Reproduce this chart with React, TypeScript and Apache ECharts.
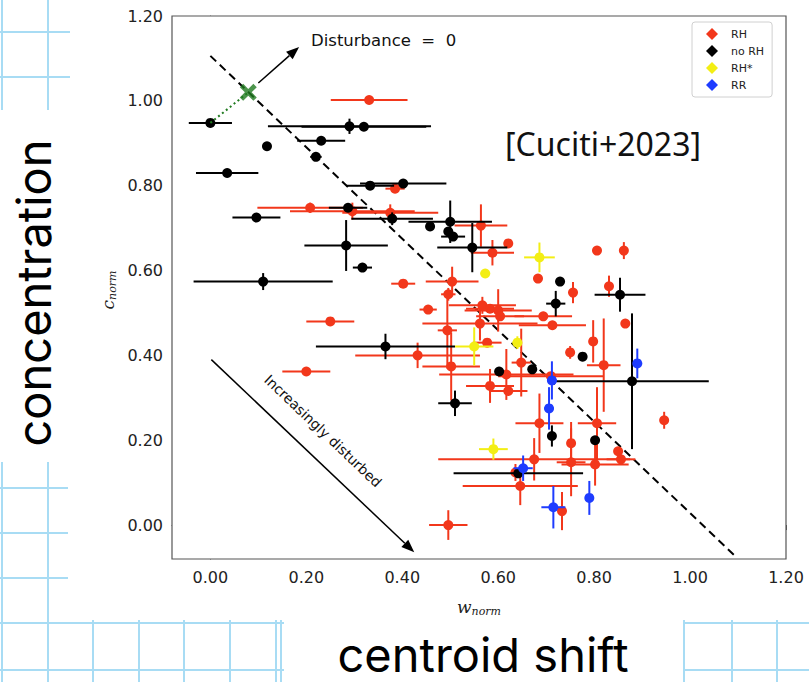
import React, { useEffect, useRef } from "react";
import * as echarts from "echarts";

const xTicks = [0, 0.2, 0.4, 0.6, 0.8, 1.0, 1.2];
const yTicks = [0, 0.2, 0.4, 0.6, 0.8, 1.0, 1.2];

// RH (red)
const rhX = [0.331, 0.385, 0.208, 0.296, 0.375, 0.564, 0.621, 0.588, 0.806, 0.862, 0.683, 0.756, 0.831, 0.865, 0.504, 0.402, 0.496, 0.454, 0.567, 0.583, 0.600, 0.604, 0.694, 0.713, 0.562, 0.494, 0.250, 0.577, 0.432, 0.200, 0.502, 0.648, 0.750, 0.798, 0.820, 0.617, 0.710, 0.583, 0.621, 0.686, 0.806, 0.946, 0.752, 0.850, 0.856, 0.675, 0.752, 0.802, 0.636, 0.646, 0.733, 0.496];
const rhY = [1.002, 0.793, 0.748, 0.740, 0.736, 0.706, 0.664, 0.642, 0.647, 0.647, 0.581, 0.548, 0.563, 0.475, 0.574, 0.569, 0.544, 0.508, 0.518, 0.510, 0.506, 0.492, 0.492, 0.471, 0.475, 0.459, 0.480, 0.430, 0.400, 0.362, 0.374, 0.383, 0.407, 0.433, 0.377, 0.355, 0.351, 0.328, 0.316, 0.240, 0.240, 0.247, 0.193, 0.174, 0.155, 0.155, 0.148, 0.143, 0.124, 0.092, 0.033, 0.000];
const rhXErr = [0.08, 0.02, 0.11, 0.13, 0.10, 0.055, 0, 0.045, 0, 0, 0, 0, 0, 0, 0.055, 0.025, 0.015, 0.018, 0.07, 0.05, 0.07, 0.05, 0.06, 0.07, 0.12, 0.02, 0.05, 0.03, 0.13, 0.05, 0.06, 0.02, 0, 0, 0.035, 0.14, 0.11, 0.05, 0.04, 0.05, 0.04, 0, 0, 0, 0.03, 0.2, 0.03, 0.07, 0, 0.12, 0, 0.04];
const rhYErr = [0, 0, 0.012, 0.02, 0.02, 0.05, 0, 0.03, 0, 0.02, 0, 0.025, 0.025, 0, 0.035, 0, 0.015, 0.01, 0.02, 0, 0.05, 0, 0, 0, 0.04, 0.09, 0, 0, 0.03, 0, 0.08, 0.08, 0.015, 0.05, 0.11, 0.06, 0, 0.04, 0, 0.07, 0.085, 0.02, 0.05, 0, 0, 0.05, 0.08, 0.05, 0.02, 0.045, 0.045, 0.035];

// no RH (black)
const nrX = [0.000, 0.290, 0.320, 0.231, 0.118, 0.220, 0.035, 0.333, 0.402, 0.287, 0.096, 0.379, 0.283, 0.317, 0.110, 0.458, 0.500, 0.496, 0.506, 0.546, 0.729, 0.720, 0.854, 0.879, 0.365, 0.602, 0.671, 0.776, 0.510, 0.712, 0.802, 0.642];
const nrY = [0.948, 0.940, 0.939, 0.906, 0.893, 0.868, 0.830, 0.800, 0.805, 0.748, 0.725, 0.722, 0.659, 0.607, 0.574, 0.704, 0.715, 0.692, 0.680, 0.654, 0.574, 0.522, 0.543, 0.339, 0.421, 0.362, 0.367, 0.397, 0.287, 0.210, 0.200, 0.122];
const nrXErr = [0.045, 0.17, 0.13, 0.05, 0, 0.012, 0.065, 0.05, 0.09, 0.04, 0.05, 0.085, 0.087, 0.02, 0.145, 0, 0.087, 0, 0.025, 0.073, 0, 0.02, 0.053, 0.16, 0.145, 0, 0, 0, 0.035, 0, 0, 0.135];
const nrYErr = [0, 0.018, 0, 0, 0, 0, 0, 0, 0.01, 0, 0, 0.015, 0.06, 0, 0.02, 0, 0.05, 0, 0.01, 0.058, 0, 0.03, 0.04, 0.16, 0.03, 0, 0, 0, 0.03, 0.025, 0, 0.01];

// RH* (yellow)
const rsX = [0.686, 0.573, 0.550, 0.640, 0.590];
const rsY = [0.631, 0.593, 0.421, 0.430, 0.179];
const rsXErr = [0.032, 0.01, 0.04, 0.01, 0.03];
const rsYErr = [0.035, 0.01, 0.045, 0.015, 0.025];

// RR (blue)
const rrX = [0.890, 0.712, 0.706, 0.652, 0.790, 0.715];
const rrY = [0.381, 0.341, 0.275, 0.134, 0.064, 0.042];
const rrXErr = [0, 0.01, 0.01, 0.02, 0, 0.025];
const rrYErr = [0.035, 0.045, 0.05, 0.03, 0.04, 0.05];

// annotations (data coordinates)
const equalLine = [[0, 1.106], [1.094, -0.073]];
const zeroPoint = [0.079, 1.02];
const dottedLink = [[0.0, 0.948], [0.079, 1.02]];
const arrowUp = [0.1, 1.042, 0.185, 1.127];
const arrowDown = [0.002, 0.39, 0.425, -0.064];

const RED = "#f2371b";
const BLACK = "#000000";
const YELLOW = "#f3ee14";
const BLUE = "#1e3cff";
const GREEN = "#1f7a1f";

function zip(x: number[], y: number[], xe: number[], ye: number[]) {
  return x.map((v, i) => [v, y[i], xe[i], ye[i]]);
}

function errRender(color: string) {
  return (params: any, api: any) => {
    const x = api.value(0), y = api.value(1), xe = api.value(2), ye = api.value(3);
    const children: any[] = [];
    if (xe > 0) {
      const a = api.coord([x - xe, y]);
      const b = api.coord([x + xe, y]);
      children.push({ type: "line", shape: { x1: a[0], y1: a[1], x2: b[0], y2: b[1] }, style: { stroke: color, lineWidth: 2 } });
    }
    if (ye > 0) {
      const a = api.coord([x, y - ye]);
      const b = api.coord([x, y + ye]);
      children.push({ type: "line", shape: { x1: a[0], y1: a[1], x2: b[0], y2: b[1] }, style: { stroke: color, lineWidth: 2 } });
    }
    return { type: "group", children };
  };
}

function arrowRender(params: any, api: any) {
  const p1 = api.coord([api.value(0), api.value(1)]);
  const p2 = api.coord([api.value(2), api.value(3)]);
  const dx = p2[0] - p1[0], dy = p2[1] - p1[1];
  const len = Math.sqrt(dx * dx + dy * dy);
  const ux = dx / len, uy = dy / len;
  const hl = 13, hw = 5;
  const bx = p2[0] - ux * hl, by = p2[1] - uy * hl;
  return {
    type: "group",
    children: [
      { type: "line", shape: { x1: p1[0], y1: p1[1], x2: bx, y2: by }, style: { stroke: "#000", lineWidth: 1.5 } },
      {
        type: "polygon",
        shape: { points: [[p2[0], p2[1]], [bx - uy * hw, by + ux * hw], [bx + uy * hw, by - ux * hw]] },
        style: { fill: "#000" },
      },
    ],
  };
}

function groupSeries(name: string, color: string, data: number[][], z: number) {
  return [
    {
      name: name + "-err",
      type: "custom",
      renderItem: errRender(color),
      data,
      encode: { x: 0, y: 1 },
      z,
      silent: true,
    },
    {
      name,
      type: "scatter",
      data: data.map((d) => [d[0], d[1]]),
      symbol: "circle",
      symbolSize: 10,
      itemStyle: { color, opacity: 1 },
      z: z + 1,
    },
  ];
}

const blueLines = [
  // left top block
  [0, 32, 70, 32], [0, 77, 70, 77], [48, 0, 48, 110], [2, 0, 2, 110],
  // left lower block
  [48, 462, 48, 682], [2, 462, 2, 682], [0, 488, 68, 488], [0, 533, 68, 533], [0, 578, 68, 578],
  [0, 623, 284, 623], [0, 670, 284, 670],
  [93, 620, 93, 682], [139, 620, 139, 682], [184, 620, 184, 682], [230, 620, 230, 682], [276, 620, 276, 682], [281, 620, 281, 682],
  // right bottom block
  [683, 623, 809, 623], [683, 670, 809, 670], [684, 620, 684, 682], [732, 620, 732, 682], [777, 620, 777, 682],
];

export default function App() {
  const ref = useRef<HTMLDivElement>(null);
  useEffect(() => {
    document.body.style.margin = "0";
    document.documentElement.style.overflow = "hidden";
    document.body.style.overflow = "hidden";
    const chart = echarts.init(ref.current!, null, { renderer: "svg" });
    const tickFont = "DejaVu Sans";
    const option: any = {
      animation: false,
      backgroundColor: "#ffffff",
      textStyle: { fontFamily: tickFont },
      grid: { left: 172, top: 16, width: 614, height: 543, show: true, borderColor: "#555", borderWidth: 1.2, backgroundColor: "#fff", z: 1 },
      xAxis: {
        type: "value", min: -0.08, max: 1.2,
        splitLine: { show: false },
        axisLine: { show: true, lineStyle: { color: "#555", width: 1.2 } },
        axisTick: { show: true, length: 5, customValues: xTicks, lineStyle: { color: "#555" } },
        axisLabel: { customValues: xTicks, formatter: (v: number) => v.toFixed(2), fontSize: 16, color: "#222", margin: 10, fontFamily: tickFont },
      },
      yAxis: {
        type: "value", min: -0.08, max: 1.2,
        splitLine: { show: false },
        axisLine: { show: true, lineStyle: { color: "#555", width: 1.2 } },
        axisTick: { show: true, length: 5, customValues: yTicks, lineStyle: { color: "#555" } },
        axisLabel: { customValues: yTicks, formatter: (v: number) => v.toFixed(2), fontSize: 16, color: "#222", margin: 9, fontFamily: tickFont },
      },
      legend: {
        data: ["RH", "no RH", "RH*", "RR"],
        orient: "vertical",
        left: 692, top: 22,
        padding: [6, 8, 6, 14],
        itemGap: 5,
        itemWidth: 12, itemHeight: 12,
        icon: "diamond",
        borderColor: "#d0d0d0", borderWidth: 1, borderRadius: 3,
        backgroundColor: "#fff",
        textStyle: { fontSize: 11, color: "#222", fontFamily: tickFont, padding: [0, 0, 0, 8] },
        z: 20,
      },
      graphic: [
        ...blueLines.map((l) => ({ type: "line", shape: { x1: l[0], y1: l[1], x2: l[2], y2: l[3] }, style: { stroke: "#a8dcf4", lineWidth: 2 }, z: -1, silent: true })),
        { type: "text", x: 311, y: 40, style: { text: "Disturbance  =  0", fontSize: 16.5, fontFamily: tickFont, fill: "#111", align: "left", verticalAlign: "middle" }, z: 10 },
        { type: "text", x: 505, y: 143, style: { text: "[Cuciti+2023]", fontSize: 32, fontFamily: "Noto Sans", fill: "#111", align: "left", verticalAlign: "middle" }, z: 10 },
        { type: "text", x: 323, y: 431, rotation: -0.76, style: { text: "Increasingly disturbed", fontSize: 14, fontFamily: tickFont, fill: "#111", align: "center", verticalAlign: "middle" }, z: 10 },
        { type: "text", x: 33, y: 293, rotation: Math.PI / 2, style: { text: "concentration", fontSize: 47, fontFamily: "Inter", fill: "#000", align: "center", verticalAlign: "middle" }, z: 10 },
        { type: "text", x: 483, y: 678, style: { text: "centroid shift", fontSize: 47, fontFamily: "Inter", fill: "#000", align: "center", verticalAlign: "bottom", lineHeight: 47 }, z: 10 },
        {
          type: "text", x: 108, y: 290, rotation: Math.PI / 2,
          style: {
            text: "{a|c}{b|norm}", align: "center", verticalAlign: "middle",
            rich: {
              a: { fontSize: 17, fontStyle: "italic", fontFamily: "DejaVu Serif", fill: "#222", lineHeight: 20, verticalAlign: "middle" },
              b: { fontSize: 11, fontStyle: "italic", fontFamily: "DejaVu Serif", fill: "#222", lineHeight: 20, verticalAlign: "bottom", padding: [6, 0, 0, 0] },
            },
          },
          z: 10,
        },
        {
          type: "text", x: 479, y: 607,
          style: {
            text: "{a|w}{b|norm}", align: "center", verticalAlign: "middle",
            rich: {
              a: { fontSize: 17, fontStyle: "italic", fontFamily: "DejaVu Serif", fill: "#222", lineHeight: 20, verticalAlign: "middle" },
              b: { fontSize: 11, fontStyle: "italic", fontFamily: "DejaVu Serif", fill: "#222", lineHeight: 20, verticalAlign: "bottom", padding: [6, 0, 0, 0] },
            },
          },
          z: 10,
        },
      ],
      series: [
        {
          name: "equal", type: "line", data: equalLine, showSymbol: false, symbol: "none",
          lineStyle: { color: "#000", width: 2, type: [8, 5] }, z: 2, silent: true,
        },
        ...groupSeries("RH", RED, zip(rhX, rhY, rhXErr, rhYErr), 3),
        ...groupSeries("no RH", BLACK, zip(nrX, nrY, nrXErr, nrYErr), 5),
        ...groupSeries("RH*", YELLOW, zip(rsX, rsY, rsXErr, rsYErr), 7),
        ...groupSeries("RR", BLUE, zip(rrX, rrY, rrXErr, rrYErr), 9),
        {
          name: "link", type: "line", data: dottedLink, symbol: "none",
          lineStyle: { color: GREEN, width: 2, type: [2, 3] }, z: 11, silent: true,
        },
        {
          name: "zero", type: "scatter", data: [zeroPoint],
          symbol: "path://M2,0 L5,3 L8,0 L10,2 L7,5 L10,8 L8,10 L5,7 L2,10 L0,8 L3,5 L0,2 Z",
          symbolSize: 17, itemStyle: { color: GREEN }, z: 12, silent: true,
        },
        {
          name: "arrows", type: "custom", renderItem: arrowRender,
          data: [arrowUp, arrowDown],
          encode: { x: [0, 2], y: [1, 3] },
          z: 12, silent: true,
        },
      ],
    };
    chart.setOption(option);
    return () => chart.dispose();
  }, []);
  return <div ref={ref} style={{ position: "fixed", left: 0, top: 0, width: 809, height: 682 }} />;
}
